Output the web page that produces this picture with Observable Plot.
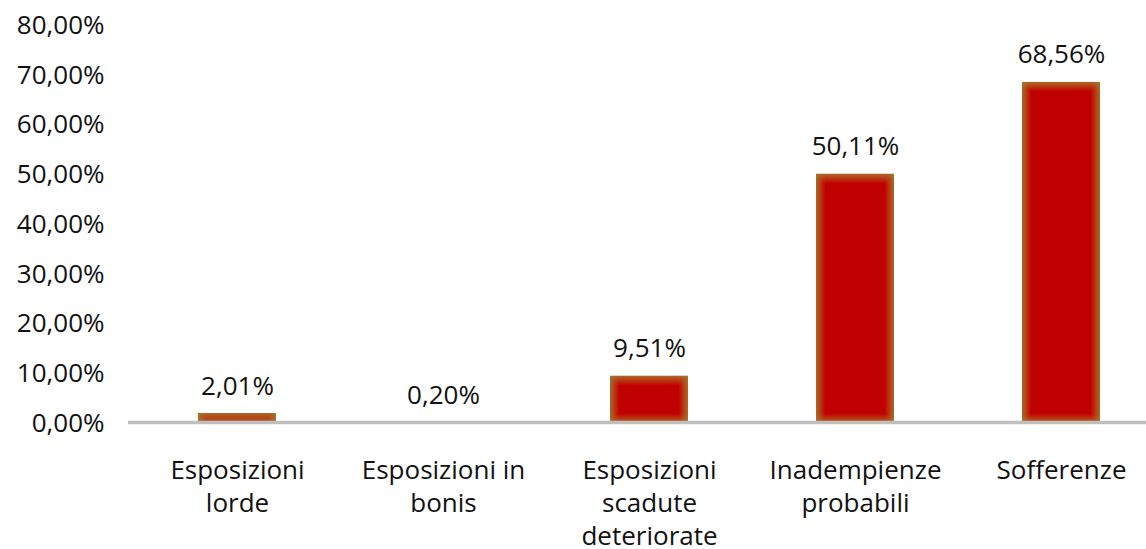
<!DOCTYPE html>
<html>
<head>
<meta charset="utf-8">
<script src="https://cdn.jsdelivr.net/npm/d3@7"></script>
<script src="https://cdn.jsdelivr.net/npm/@observablehq/plot@0.6"></script>
<style>
  html, body { margin: 0; padding: 0; background: #fff; overflow: hidden; }
  #chart { width: 1146px; height: 549px; }
</style>
</head>
<body>
<div id="chart"></div>
<script>
const categories = ["Esposizioni\nlorde", "Esposizioni in\nbonis", "Esposizioni\nscadute\ndeteriorate", "Inadempienze\nprobabili", "Sofferenze"];
const values = [2.01, 0.20, 9.51, 50.11, 68.56];
const yTicks = [0, 10, 20, 30, 40, 50, 60, 70, 80];

const fmt = d => d.toFixed(2).replace(".", ",") + "%";
const data = categories.map((c, i) => ({category: c, value: values[i]}));

const chart = Plot.plot({
  width: 1146,
  height: 549,
  marginLeft: 128,
  marginRight: 0,
  marginTop: 0,
  marginBottom: 0,
  style: {fontFamily: "'Open Sans', 'Noto Sans', sans-serif", fontSize: "26px", color: "#000", background: "#fff", overflow: "visible"},
  x: {domain: categories, range: [133, 1166], paddingInner: 0.62, paddingOuter: 0.31, axis: null},
  y: {domain: [0, 80], range: [423, 25], axis: null},
  marks: [
    Plot.axisY({ticks: yTicks, tickFormat: fmt, tickSize: 0, tickPadding: 24, label: null, fontSize: 26, fill: "#111"}),
    Plot.barY(data, {x: "category", y: "value", fill: "#C00000"}),
    Plot.ruleY([0], {stroke: "#BFBFBF", strokeWidth: 3.5, dy: -1}),
    Plot.text(data, {x: "category", y: "value", text: d => fmt(d.value), lineAnchor: "bottom", dy: -19, fontSize: 26, fill: "#111"}),
    Plot.text(data, {x: "category", y: 0, text: "category", lineAnchor: "top", dy: 31.5, lineHeight: 1.28, fontSize: 26, fill: "#111"})
  ]
});

// inner glow on bars
const ns = "http://www.w3.org/2000/svg";
const defs = document.createElementNS(ns, "defs");
defs.innerHTML = `<filter id="innerGlow" x="-100%" y="-100%" width="300%" height="300%">
  <feFlood flood-color="#86903e" result="flood"/>
  <feComposite in="flood" in2="SourceAlpha" operator="out" result="outside"/>
  <feGaussianBlur in="outside" stdDeviation="4" result="blur"/>
  <feComposite in="blur" in2="SourceGraphic" operator="atop"/>
</filter>`;
chart.insertBefore(defs, chart.firstChild);
chart.querySelectorAll('g[aria-label="bar"] rect').forEach(r => r.setAttribute("filter", "url(#innerGlow)"));

document.getElementById("chart").appendChild(chart);
</script>
</body>
</html>
